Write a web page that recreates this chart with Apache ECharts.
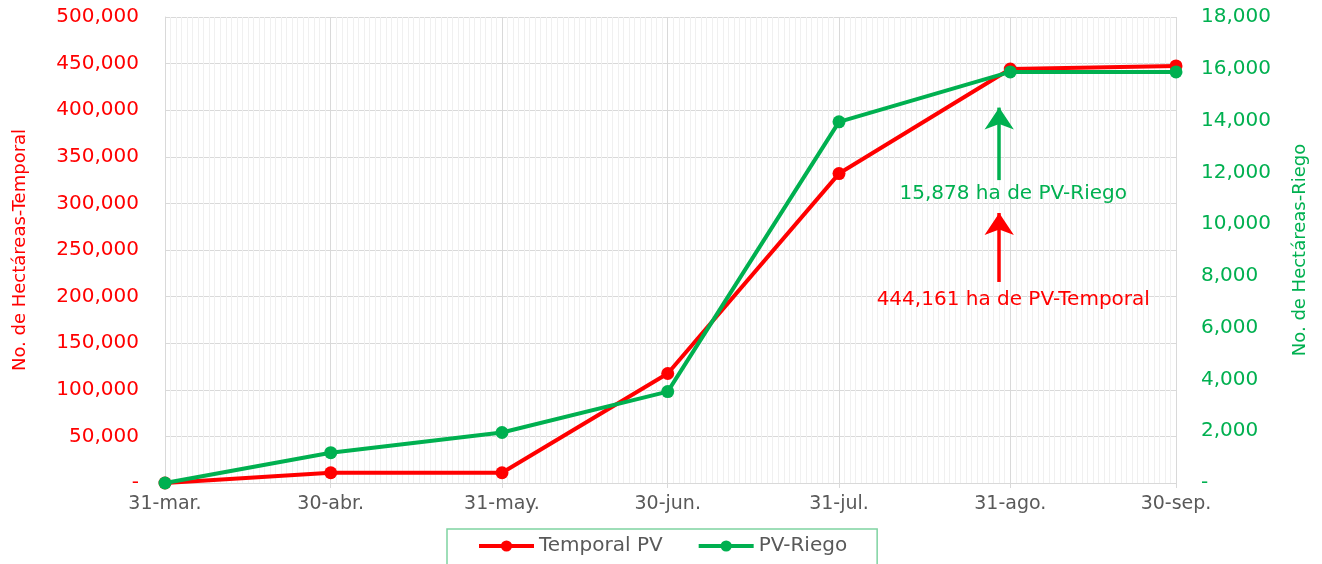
<!DOCTYPE html>
<html>
<head>
<meta charset="utf-8">
<script src="https://cdn.jsdelivr.net/npm/echarts@6/dist/echarts.min.js"></script>
<style>
html,body{margin:0;padding:0;background:#fff;}
#c{width:1322px;height:564px;}
</style>
</head>
<body>
<div id="c"></div>
<script>
// ---- data ----
const dates = ['31-mar.', '30-abr.', '31-may.', '30-jun.', '31-jul.', '31-ago.', '30-sep.'];
const temporal = [0, 11000, 11000, 117500, 332000, 444161, 447500];
const riego = [0, 1170, 1950, 3530, 13950, 15878, 15880];
const seriesNames = ['Temporal PV', 'PV-Riego'];
const leftAxisName = 'No. de Hectáreas-Temporal';
const rightAxisName = 'No. de Hectáreas-Riego';
const riegoNote = '15,878 ha de PV-Riego';
const temporalNote = '444,161 ha de PV-Temporal';
const monthNames = ['ene', 'feb', 'mar', 'abr', 'may', 'jun', 'jul', 'ago', 'sep', 'oct', 'nov', 'dic'];

// daily categories for a date axis (31-mar. .. 30-sep.)
const days = [];
for (let d = new Date(2023, 2, 31); d <= new Date(2023, 8, 30); d.setDate(d.getDate() + 1)) {
  days.push(d.getDate() + '-' + monthNames[d.getMonth()] + '.');
}
const major = new Set(dates);

const RED = '#FF0000', GREEN = '#00B050', GRAY = '#595959';
const FONT = 'DejaVu Sans';
const fmt = v => v === 0 ? '-' : v.toLocaleString('en-US');

const chart = echarts.init(document.getElementById('c'));
chart.setOption({
  animation: false,
  textStyle: { fontFamily: FONT },
  grid: { left: 165, right: 146, top: 17, bottom: 81, outerBoundsMode: 'none', containLabel: false },
  legend: {
    data: seriesNames,
    left: 447, top: 529,
    padding: [7, 30, 12, 30],
    borderColor: '#7fd3a1', borderWidth: 1.5,
    itemWidth: 55, itemHeight: 14, itemGap: 34,
    lineStyle: { width: 4 },
    textStyle: { color: GRAY, fontSize: 20, fontFamily: FONT }
  },
  xAxis: [
    {
      type: 'category', data: days, boundaryGap: false,
      axisLine: { show: false }, axisTick: { show: false }, axisLabel: { show: false },
      splitLine: { show: true, interval: 0, lineStyle: { color: '#f0f0f0', width: 1 } }
    },
    {
      type: 'category', data: days, boundaryGap: false, position: 'bottom',
      axisLine: { show: true, lineStyle: { color: '#d9d9d9', width: 1 } },
      axisTick: { show: true, length: 5, interval: (i, v) => major.has(v), lineStyle: { color: '#d9d9d9' } },
      axisLabel: { interval: (i, v) => major.has(v), color: GRAY, fontSize: 19, margin: 12, fontFamily: FONT },
      splitLine: { show: true, interval: (i, v) => major.has(v), lineStyle: { color: '#d9d9d9', width: 1 } }
    }
  ],
  yAxis: [
    {
      type: 'value', min: 0, max: 500000, interval: 50000,
      name: leftAxisName, nameLocation: 'middle', nameGap: 136,
      nameTextStyle: { color: RED, fontSize: 18, fontFamily: FONT },
      axisLine: { show: true, lineStyle: { color: '#d9d9d9' } },
      axisTick: { show: false },
      axisLabel: { color: RED, fontSize: 20, margin: 26, formatter: fmt, fontFamily: FONT },
      splitLine: { show: true, lineStyle: { color: '#d9d9d9', width: 1 } }
    },
    {
      type: 'value', min: 0, max: 18000, interval: 2000,
      name: rightAxisName, nameLocation: 'middle', nameGap: 115,
      nameTextStyle: { color: GREEN, fontSize: 18, fontFamily: FONT },
      axisLine: { show: false }, axisTick: { show: false },
      axisLabel: { color: GREEN, fontSize: 20, margin: 25, formatter: fmt, fontFamily: FONT },
      splitLine: { show: false }
    }
  ],
  series: [
    {
      name: seriesNames[0], type: 'line', xAxisIndex: 1, yAxisIndex: 0,
      data: dates.map((d, i) => [d, temporal[i]]),
      itemStyle: { color: RED }, lineStyle: { color: RED, width: 4 },
      symbol: 'circle', symbolSize: 13, z: 3,
      markLine: {
        silent: true, symbol: ['none', 'arrow'], symbolSize: 22,
        lineStyle: { color: RED, width: 3.5, type: 'solid' }, label: { show: false },
        data: [[{ coord: ['29-ago.', 215700] }, { coord: ['29-ago.', 289700] }]]
      },
      markPoint: {
        silent: true, symbol: 'circle', symbolSize: 0,
        label: { show: true, position: 'inside', offset: [3, 0], color: RED, fontSize: 20, fontFamily: FONT, formatter: temporalNote },
        data: [{ coord: ['31-ago.', 196350] }]
      }
    },
    {
      name: seriesNames[1], type: 'line', xAxisIndex: 1, yAxisIndex: 1,
      data: dates.map((d, i) => [d, riego[i]]),
      itemStyle: { color: GREEN }, lineStyle: { color: GREEN, width: 4 },
      symbol: 'circle', symbolSize: 13, z: 4,
      markLine: {
        silent: true, symbol: ['none', 'arrow'], symbolSize: 22,
        lineStyle: { color: GREEN, width: 3.5, type: 'solid' }, label: { show: false },
        data: [[{ coord: ['29-ago.', 11700] }, { coord: ['29-ago.', 14500] }]]
      },
      markPoint: {
        silent: true, symbol: 'circle', symbolSize: 0,
        label: { show: true, position: 'inside', offset: [3, 0], color: GREEN, fontSize: 20, fontFamily: FONT, formatter: riegoNote },
        data: [{ coord: ['31-ago.', 11163] }]
      }
    }
  ]
});
</script>
</body>
</html>
